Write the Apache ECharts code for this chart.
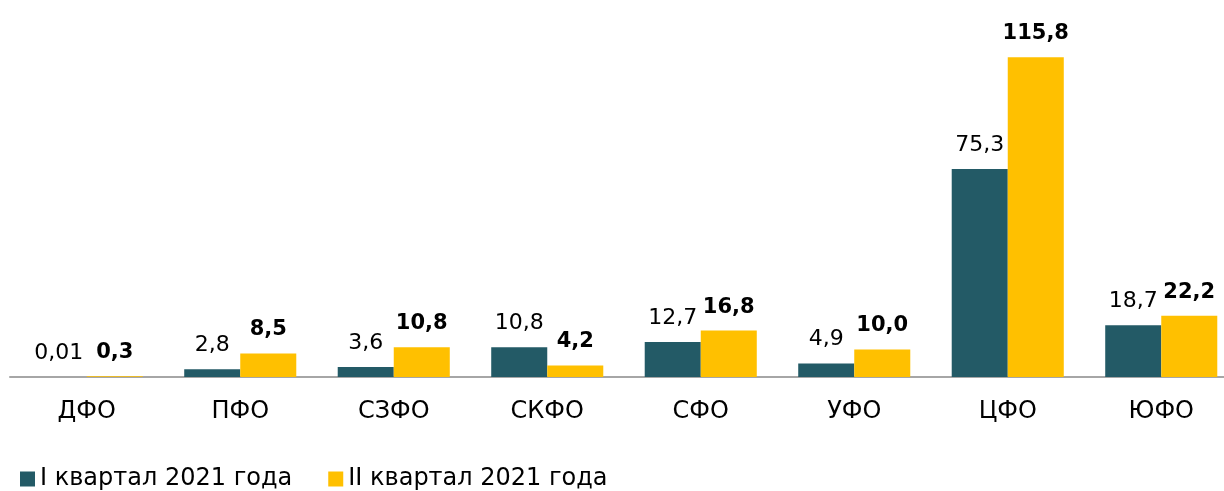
<!DOCTYPE html>
<html>
<head>
<meta charset="utf-8">
<script src="https://cdn.jsdelivr.net/npm/echarts@6/dist/echarts.min.js"></script>
<style>
  html, body { margin: 0; padding: 0; background: #ffffff; }
  #chart { width: 1224px; height: 491px; }
</style>
</head>
<body>
<div id="chart"></div>
<script>
// Federal districts
const categories = ['ДФО', 'ПФО', 'СЗФО', 'СКФО', 'СФО', 'УФО', 'ЦФО', 'ЮФО'];
// Values by quarter
const q1Values = [0.01, 2.8, 3.6, 10.8, 12.7, 4.9, 75.3, 18.7];
const q2Values = [0.3, 8.5, 10.8, 4.2, 16.8, 10.0, 115.8, 22.2];
const seriesNames = ['I квартал 2021 года', 'II квартал 2021 года'];

const FONT = 'DejaVu Sans';

// Comma decimal; keep two places for very small values
function fmt(v) {
  const s = Math.abs(v * 10 - Math.round(v * 10)) < 1e-9 ? v.toFixed(1) : v.toFixed(2);
  return s.replace('.', ',');
}

const chart = echarts.init(document.getElementById('chart'), null, { renderer: 'canvas' });

chart.setOption({
  animation: false,
  backgroundColor: '#ffffff',
  textStyle: { fontFamily: FONT },
  // the plot runs a little past the right edge of the canvas
  grid: {
    left: 10, width: 1228, top: 18, bottom: 114,
    containLabel: false,
    outerBoundsMode: 'none'
  },
  legend: {
    left: 15,
    top: 462,
    itemWidth: 15,
    itemHeight: 15,
    itemGap: 36,
    icon: 'rect',
    textStyle: { fontFamily: FONT, fontSize: 24, color: '#000000', padding: [0, 0, 0, 0] },
    data: seriesNames
  },
  xAxis: {
    type: 'category',
    data: categories,
    axisLine: { show: true, lineStyle: { color: '#A6A6A6', width: 2 } },
    axisTick: { show: false },
    axisLabel: { fontFamily: FONT, fontSize: 24, color: '#000000', margin: 23 }
  },
  yAxis: {
    type: 'value',
    min: 0,
    max: 130,
    show: false,
    splitLine: { show: false }
  },
  series: [
    {
      name: seriesNames[0],
      type: 'bar',
      data: q1Values,
      barGap: '0%',
      barCategoryGap: '27%',
      itemStyle: { color: '#235A66' },
      label: {
        show: true,
        position: 'top',
        distance: 13,
        fontFamily: FONT,
        fontSize: 22,
        color: '#000000',
        formatter: p => fmt(p.value)
      }
    },
    {
      name: seriesNames[1],
      type: 'bar',
      data: q2Values,
      barGap: '0%',
      barCategoryGap: '27%',
      itemStyle: { color: '#FFC000' },
      label: {
        show: true,
        position: 'top',
        distance: 13,
        fontFamily: FONT,
        fontSize: 21,
        fontWeight: 'bold',
        color: '#000000',
        formatter: p => fmt(p.value)
      }
    }
  ]
});
</script>
</body>
</html>
